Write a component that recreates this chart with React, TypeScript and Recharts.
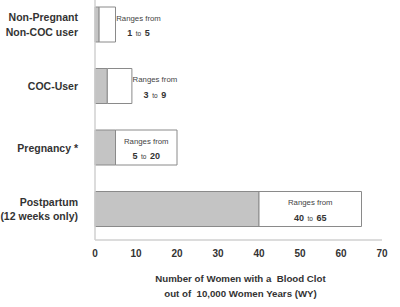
import React from "react";
import { BarChart, Bar, XAxis, YAxis, Label } from "recharts";

const categories = ["Non-Pregnant\nNon-COC user", "COC-User", "Pregnancy *", "Postpartum\n(12 weeks only)"];
const lowValues = [1, 3, 5, 40];
const highValues = [5, 9, 20, 65];
const xTicks = [0, 10, 20, 30, 40, 50, 60, 70];
const titleLines = ["Number of Women with a\u00a0 Blood Clot", "out of\u00a0 10,000 Women Years (WY)"];

const data = categories.map((c, i) => ({
  name: c,
  low: lowValues[i],
  span: highValues[i] - lowValues[i],
}));

const FONT = "'Liberation Sans', Arial, sans-serif";
const TEXT = "#333";

const CatTick = (props: any) => {
  const { x, y, payload } = props;
  const lines = String(payload.value).split("\n");
  const lh = 14.5;
  const start = -((lines.length - 1) * lh) / 2;
  return (
    <g>
      {lines.map((l: string, i: number) => (
        <text
          key={i}
          x={x - 9}
          y={y + start + i * lh}
          dy="0.36em"
          textAnchor="end"
          fontFamily={FONT}
          fontSize={10.5}
          fontWeight="bold"
          fill={TEXT}
        >
          {l}
        </text>
      ))}
    </g>
  );
};

const RangeLabel = (props: any) => {
  const { x, y, width, height, index } = props;
  const lo = lowValues[index];
  const hi = highValues[index];
  const outside = width < 40;
  const cx = outside ? x + width + 23 : x + width / 2;
  const cy = y + height / 2;
  return (
    <g fontFamily={FONT} fill={TEXT}>
      <text x={cx} y={cy - 6.5} dy="0.36em" textAnchor="middle" fontSize={7.8} fill="#444">
        Ranges from
      </text>
      <text x={cx} y={cy + 6} dy="0.36em" textAnchor="middle" fill={TEXT}>
        <tspan fontSize={9} fontWeight="bold">{lo}</tspan>
        <tspan fontSize={6.5}>{"\u00a0 to \u00a0"}</tspan>
        <tspan fontSize={9} fontWeight="bold">{hi}</tspan>
      </text>
    </g>
  );
};

const AxisTitle = (props: any) => {
  const vb = props.viewBox || {};
  const cx = vb.x + vb.width / 2 + 2;
  const top = vb.y;
  return (
    <g>
      {titleLines.map((t, i) => (
        <text
          key={i}
          x={cx}
          y={top + 39 + i * 15}
          dy="0.36em"
          textAnchor="middle"
          fontFamily={FONT}
          fontSize={9.7}
          fontWeight="bold"
          fill={TEXT}
        >
          {t}
        </text>
      ))}
    </g>
  );
};

export default function App() {
  return (
    <div style={{ position: "absolute", left: 0, top: 0, width: 400, height: 307, background: "#fff" }}>
      <BarChart
        width={400}
        height={307}
        data={data}
        layout="vertical"
        margin={{ top: -6, right: 18, bottom: 0, left: 0 }}
        barSize={35}
      >
        <XAxis
          type="number"
          domain={[0, 70]}
          ticks={xTicks}
          tickLine={false}
          axisLine={{ stroke: "#d0d0d0", strokeWidth: 1.5 }}
          tick={{ fill: TEXT, fontSize: 10, fontWeight: "bold", fontFamily: FONT }}
          tickMargin={4}
          height={67}
          interval={0}
        >
          <Label content={<AxisTitle />} />
        </XAxis>
        <YAxis
          type="category"
          dataKey="name"
          width={95}
          tickLine={false}
          axisLine={{ stroke: "#d0d0d0", strokeWidth: 1.5 }}
          tick={<CatTick />}
          interval={0}
        />
        <Bar dataKey="low" stackId="a" fill="#c4c4c4" stroke="#8a8a8a" isAnimationActive={false} />
        <Bar
          dataKey="span"
          stackId="a"
          fill="#ffffff"
          stroke="#8a8a8a"
          isAnimationActive={false}
          label={(p: any) => <RangeLabel {...p} />}
        />
      </BarChart>
    </div>
  );
}
